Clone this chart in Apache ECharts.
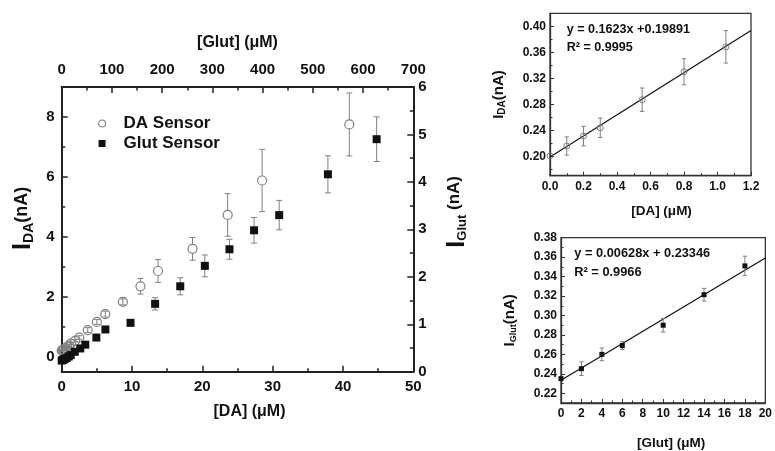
<!DOCTYPE html>
<html><head><meta charset="utf-8">
<script src="https://cdn.jsdelivr.net/npm/echarts@6/dist/echarts.min.js"></script>
<style>html,body{margin:0;padding:0;background:#fff}#c{width:775px;height:451px}</style>
</head><body><div id="c"></div>
<script>
// ---------- Main chart data ----------
const daConc     = [0, 0.1, 0.2, 0.3, 0.55, 0.8, 1.05, 1.3, 1.9, 2.5, 3.7, 5.0, 6.2, 8.7, 11.2, 13.7, 18.6, 23.6, 28.5, 40.9];
const daCurrent  = [0.20, 0.215, 0.23, 0.245, 0.287, 0.33, 0.368, 0.44, 0.53, 0.64, 0.89, 1.16, 1.42, 1.83, 2.35, 2.86, 3.60, 4.73, 5.88, 7.75];
const daErr      = [0.01, 0.014, 0.015, 0.015, 0.018, 0.02, 0.025, 0.03, 0.04, 0.06, 0.08, 0.08, 0.10, 0.10, 0.26, 0.38, 0.38, 0.71, 1.04, 1.05];
const glutConc    = [0, 2, 4, 6, 10, 14, 18, 26, 37, 47, 69, 87, 137, 186, 236, 285, 334, 383, 433, 530, 627];
const glutCurrent = [0.235, 0.246, 0.26, 0.269, 0.29, 0.321, 0.35, 0.42, 0.49, 0.57, 0.72, 0.89, 1.03, 1.43, 1.80, 2.23, 2.58, 2.98, 3.30, 4.16, 4.90];
const glutErr     = [0.005, 0.007, 0.0065, 0.004, 0.007, 0.0065, 0.01, 0.02, 0.02, 0.03, 0.03, 0.04, 0.07, 0.13, 0.18, 0.23, 0.21, 0.27, 0.31, 0.39, 0.47];
// ---------- Inset data ----------
const insetDaConc    = [0, 0.1, 0.2, 0.3, 0.55, 0.8, 1.05];
const insetDaCurrent = [0.2005, 0.2157, 0.231, 0.2438, 0.287, 0.330, 0.3684];
const insetDaErr     = [0, 0.014, 0.015, 0.015, 0.018, 0.02, 0.025];
const daFitX = [0, 1.2];
const daFitY = [0.19891, 0.39367];
const insetGlutConc    = [0, 2, 4, 6, 10, 14, 18];
const insetGlutCurrent = [0.235, 0.2453, 0.26, 0.2691, 0.29, 0.3214, 0.351];
const insetGlutErr     = [0, 0.007, 0.0065, 0.004, 0.007, 0.0065, 0.01];
const glutFitX = [0, 20];
const glutFitY = [0.23346, 0.35906];
// ---------- Tick values ----------
const mainIdaTicks   = [0, 2, 4, 6, 8];
const mainIdaMinor   = [1, 3, 5, 7];
const insetDaYTicks  = [0.20, 0.24, 0.28, 0.32, 0.36, 0.40];
const insetDaYMinor  = [0.18, 0.22, 0.26, 0.30, 0.34, 0.38];
const insetGlutYTicks = [0.22, 0.24, 0.26, 0.28, 0.30, 0.32, 0.34, 0.36, 0.38];
const insetGlutYMinor = [0.21, 0.23, 0.25, 0.27, 0.29, 0.31, 0.33, 0.35, 0.37];

const FF = '"Liberation Sans", Arial, sans-serif';
const TXT = '#111';
const GRAY = '#808080';

function errRender(r, half, color) {
  return function (params, api) {
    const x = api.value(0), y = api.value(1), e = api.value(2);
    if (!e) return null;
    const c = api.coord([x, y]);
    const t = api.coord([x, y + e]);
    const b = api.coord([x, y - e]);
    const st = { stroke: color, lineWidth: 1 };
    const ch = [];
    if (r > 0 && c[1] - t[1] > r + 1) {
      ch.push({ type: 'line', shape: { x1: c[0], y1: t[1], x2: c[0], y2: c[1] - r }, style: st });
      ch.push({ type: 'line', shape: { x1: c[0], y1: b[1], x2: c[0], y2: c[1] + r }, style: st });
    } else {
      ch.push({ type: 'line', shape: { x1: c[0], y1: t[1], x2: c[0], y2: b[1] }, style: st });
    }
    ch.push({ type: 'line', shape: { x1: c[0] - half, y1: t[1], x2: c[0] + half, y2: t[1] }, style: st });
    ch.push({ type: 'line', shape: { x1: c[0] - half, y1: b[1], x2: c[0] + half, y2: b[1] }, style: st });
    return { type: 'group', children: ch };
  };
}

function mainAxisBase(extra) {
  return Object.assign({
    type: 'value',
    gridIndex: 0,
    splitLine: { show: false },
    axisLine: { show: true, onZero: false, lineStyle: { color: '#222', width: 2 } },
    axisTick: { inside: true, length: 6, lineStyle: { color: '#222', width: 1.5 } },
    minorTick: { show: true, splitNumber: 2, length: 3.5, lineStyle: { color: '#222', width: 1.5 } },
    axisLabel: { fontSize: 15, fontWeight: 'bold', color: TXT, fontFamily: FF }
  }, extra);
}
function insetAxisBase(grid, extra) {
  return Object.assign({
    type: 'value',
    gridIndex: grid,
    splitLine: { show: false },
    axisLine: { show: true, onZero: false, lineStyle: { color: '#333', width: 1.3 } },
    axisTick: { inside: true, length: 4, lineStyle: { color: '#333', width: 1 } },
    minorTick: { show: true, splitNumber: 2, length: 2.5, lineStyle: { color: '#333', width: 1 } },
    axisLabel: { fontSize: 12, fontWeight: 'bold', color: TXT, fontFamily: FF, margin: 5 }
  }, extra);
}
function bigRich(iSize, sSize, nSize) {
  return {
    i: { fontSize: iSize, lineHeight: iSize, fontWeight: 'bold', color: TXT, fontFamily: FF, verticalAlign: 'bottom' },
    s: { fontSize: sSize, lineHeight: sSize, fontWeight: 'bold', color: TXT, fontFamily: FF, verticalAlign: 'bottom' },
    n: { fontSize: nSize, lineHeight: nSize, fontWeight: 'bold', color: TXT, fontFamily: FF, verticalAlign: 'top', padding: [2, 0, 0, 0] }
  };
}
function smallRich(iSize, sSize) {
  return {
    i: { fontSize: iSize, lineHeight: iSize + 1, fontWeight: 'bold', color: TXT, fontFamily: FF, verticalAlign: 'top' },
    s: { fontSize: sSize, lineHeight: sSize, fontWeight: 'bold', color: TXT, fontFamily: FF, verticalAlign: 'bottom' },
    n: { fontSize: iSize, lineHeight: iSize + 1, fontWeight: 'bold', color: TXT, fontFamily: FF, verticalAlign: 'top' }
  };
}

const option = {
  animation: false,
  backgroundColor: '#fff',
  textStyle: { fontFamily: FF },
  grid: [
    { left: 61.7, right: 361.7, top: 87, bottom: 79.3 },
    { left: 550, right: 24, top: 13.3, bottom: 275.3, show: true, borderColor: '#333', borderWidth: 1.3 },
    { left: 561, right: 8.3, top: 237.7, bottom: 47.7, show: true, borderColor: '#333', borderWidth: 1.3 }
  ],
  legend: {
    orient: 'vertical',
    left: 93, top: 108.5,
    itemWidth: 7, itemHeight: 7, itemGap: 0,
    textStyle: { fontSize: 17, fontWeight: 'bold', color: TXT, fontFamily: FF, lineHeight: 20, padding: [0, 0, 0, 13] },
    data: [
      { name: 'DA Sensor', icon: 'circle', itemStyle: { color: '#fff', borderColor: GRAY, borderWidth: 1.1 } },
      { name: 'Glut Sensor', icon: 'rect', itemStyle: { color: '#111' } }
    ]
  },
  xAxis: [
    mainAxisBase({ position: 'bottom', min: 0, max: 50, interval: 10,
      axisLabel: { fontSize: 15, fontWeight: 'bold', color: TXT, fontFamily: FF, margin: 8 },
      name: '[DA] (μM)', nameLocation: 'middle', nameGap: 32,
      nameTextStyle: { fontSize: 16, fontWeight: 'bold', color: TXT, fontFamily: FF, padding: [0, 0, 0, 24] } }),
    mainAxisBase({ position: 'top', min: 0, max: 700, interval: 100,
      axisLabel: { fontSize: 15, fontWeight: 'bold', color: TXT, fontFamily: FF, margin: 10 },
      name: '[Glut] (μM)', nameLocation: 'middle', nameGap: 36,
      nameTextStyle: { fontSize: 16, fontWeight: 'bold', color: TXT, fontFamily: FF } }),
    insetAxisBase(1, { position: 'bottom', min: 0, max: 1.2, interval: 0.2,
      axisLabel: { fontSize: 12, fontWeight: 'bold', color: TXT, fontFamily: FF, margin: 5, formatter: v => v.toFixed(1) },
      name: '[DA] (μM)', nameLocation: 'middle', nameGap: 29,
      nameTextStyle: { fontSize: 13.5, fontWeight: 'bold', color: TXT, fontFamily: FF, padding: [0, 0, 0, 22] } }),
    insetAxisBase(2, { position: 'bottom', min: 0, max: 20, interval: 2,
      name: '[Glut] (μM)', nameLocation: 'middle', nameGap: 33,
      nameTextStyle: { fontSize: 13.5, fontWeight: 'bold', color: TXT, fontFamily: FF, padding: [0, 0, 0, 16] } })
  ],
  yAxis: [
    // 0 main left
    mainAxisBase({ position: 'left', min: -0.5, max: 9,
      axisTick: { inside: true, length: 6, customValues: mainIdaTicks, lineStyle: { color: '#222', width: 1.5 } },
      minorTick: { show: false },
      axisLabel: { fontSize: 15, fontWeight: 'bold', color: TXT, fontFamily: FF, margin: 7, customValues: mainIdaTicks },
      name: '{i|I}{s|DA}{n|(nA)}', nameLocation: 'middle', nameGap: 26, nameRotate: 90,
      nameTextStyle: { padding: [0, 0, 0, 22], rich: bigRich(25, 14, 18) } }),
    // 1 main right
    mainAxisBase({ position: 'right', min: 0, max: 6, interval: 1,
      axisLabel: { fontSize: 15, fontWeight: 'bold', color: TXT, fontFamily: FF, margin: 5 },
      name: '{i|I}{s|Glut}{n| (nA)}', nameLocation: 'middle', nameGap: 31, nameRotate: 90,
      nameTextStyle: { padding: [0, 0, 0, 35], rich: bigRich(25, 13, 17) } }),
    // 2 main left minor overlay
    { type: 'value', gridIndex: 0, position: 'left', offset: 0, min: -0.5, max: 9,
      splitLine: { show: false }, axisLine: { show: false }, axisLabel: { show: false },
      axisTick: { show: true, inside: true, length: 3.5, customValues: mainIdaMinor, lineStyle: { color: '#222', width: 1.5 } } },
    // 3 inset DA y
    insetAxisBase(1, { position: 'left', min: 0.17, max: 0.42,
      axisTick: { inside: true, length: 4, customValues: insetDaYTicks, lineStyle: { color: '#333', width: 1 } },
      minorTick: { show: false },
      axisLabel: { fontSize: 12, fontWeight: 'bold', color: TXT, fontFamily: FF, margin: 4, customValues: insetDaYTicks, formatter: v => v.toFixed(2) },
      name: '{i|I}{s|DA}{n|(nA)}', nameLocation: 'middle', nameGap: 43, nameRotate: 90,
      nameTextStyle: { rich: smallRich(15, 10) } }),
    // 4 inset DA y minor
    { type: 'value', gridIndex: 1, position: 'left', offset: 0, min: 0.17, max: 0.42,
      splitLine: { show: false }, axisLine: { show: false }, axisLabel: { show: false },
      axisTick: { show: true, inside: true, length: 2.5, customValues: insetDaYMinor, lineStyle: { color: '#333', width: 1 } } },
    // 5 inset Glut y
    insetAxisBase(2, { position: 'left', min: 0.21, max: 0.38,
      axisTick: { inside: true, length: 4, customValues: insetGlutYTicks, lineStyle: { color: '#333', width: 1 } },
      minorTick: { show: false },
      axisLabel: { fontSize: 12, fontWeight: 'bold', color: TXT, fontFamily: FF, margin: 4, customValues: insetGlutYTicks, formatter: v => v.toFixed(2) },
      name: '{i|I}{s|Glut}{n|(nA)}', nameLocation: 'middle', nameGap: 43, nameRotate: 90,
      nameTextStyle: { rich: smallRich(15, 9) } }),
    // 6 inset Glut y minor
    { type: 'value', gridIndex: 2, position: 'left', offset: 0, min: 0.21, max: 0.38,
      splitLine: { show: false }, axisLine: { show: false }, axisLabel: { show: false },
      axisTick: { show: true, inside: true, length: 2.5, customValues: insetGlutYMinor, lineStyle: { color: '#333', width: 1 } } }
  ],
  graphic: [
    { type: 'text', left: 566.7, top: 23.5, style: { text: 'y = 0.1623x +0.19891', font: 'bold 12.6px ' + FF, fill: TXT } },
    { type: 'text', left: 566.7, top: 41.3, style: { text: 'R² = 0.9995', font: 'bold 12.6px ' + FF, fill: TXT } },
    { type: 'text', left: 574.3, top: 247.3, style: { text: 'y = 0.00628x + 0.23346', font: 'bold 12.8px ' + FF, fill: TXT } },
    { type: 'text', left: 574.3, top: 266.3, style: { text: 'R² = 0.9966', font: 'bold 12.8px ' + FF, fill: TXT } }
  ],
  series: [
    { type: 'custom', name: 'daErr', xAxisIndex: 0, yAxisIndex: 0, renderItem: errRender(4.5, 3, GRAY),
      data: daConc.map((x, i) => [x, daCurrent[i], daErr[i]]), encode: { x: 0, y: 1 }, z: 2, silent: true },
    { type: 'custom', name: 'glutErr', xAxisIndex: 1, yAxisIndex: 1, renderItem: errRender(0, 3, GRAY),
      data: glutConc.map((x, i) => [x, glutCurrent[i], glutErr[i]]), encode: { x: 0, y: 1 }, z: 2, silent: true },
    { type: 'scatter', name: 'DA Sensor', xAxisIndex: 0, yAxisIndex: 0, symbol: 'circle', symbolSize: 9,
      itemStyle: { color: 'rgba(255,255,255,0)', borderColor: GRAY, borderWidth: 1.2, opacity: 1 },
      data: daConc.map((x, i) => [x, daCurrent[i]]), z: 3 },
    { type: 'scatter', name: 'Glut Sensor', xAxisIndex: 1, yAxisIndex: 1, symbol: 'rect', symbolSize: 8,
      itemStyle: { color: '#111', opacity: 1 },
      data: glutConc.map((x, i) => [x, glutCurrent[i]]), z: 3 },
    // inset 1
    { type: 'line', name: 'daFit', xAxisIndex: 2, yAxisIndex: 3, symbol: 'none',
      lineStyle: { color: '#111', width: 1.2 }, data: daFitX.map((x, i) => [x, daFitY[i]]), z: 2 },
    { type: 'custom', name: 'insetDaErr', xAxisIndex: 2, yAxisIndex: 3, renderItem: errRender(0, 2.2, GRAY),
      data: insetDaConc.map((x, i) => [x, insetDaCurrent[i], insetDaErr[i]]), encode: { x: 0, y: 1 }, z: 3 },
    { type: 'scatter', name: 'insetDa', xAxisIndex: 2, yAxisIndex: 3, symbol: 'circle', symbolSize: 6,
      itemStyle: { color: 'rgba(255,255,255,0)', borderColor: GRAY, borderWidth: 1, opacity: 1 },
      data: insetDaConc.map((x, i) => [x, insetDaCurrent[i]]), z: 4 },
    // inset 2
    { type: 'line', name: 'glutFit', xAxisIndex: 3, yAxisIndex: 5, symbol: 'none',
      lineStyle: { color: '#111', width: 1.2 }, data: glutFitX.map((x, i) => [x, glutFitY[i]]), z: 2 },
    { type: 'custom', name: 'insetGlutErr', xAxisIndex: 3, yAxisIndex: 5, renderItem: errRender(0, 2.2, GRAY),
      data: insetGlutConc.map((x, i) => [x, insetGlutCurrent[i], insetGlutErr[i]]), encode: { x: 0, y: 1 }, z: 3 },
    { type: 'scatter', name: 'insetGlut', xAxisIndex: 3, yAxisIndex: 5, symbol: 'rect', symbolSize: 5,
      itemStyle: { color: '#111', opacity: 1 },
      data: insetGlutConc.map((x, i) => [x, insetGlutCurrent[i]]), z: 4 }
  ]
};
const chart = echarts.init(document.getElementById('c'), null, { renderer: 'canvas' });
chart.setOption(option);
</script>
</body></html>
